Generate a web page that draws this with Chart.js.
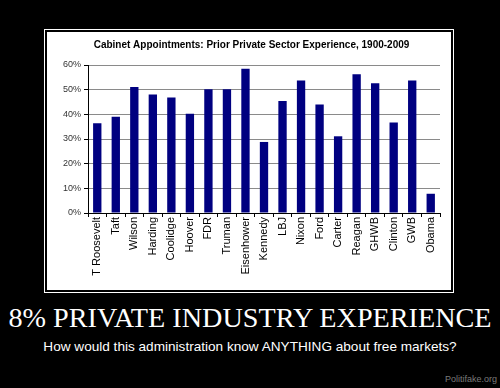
<!DOCTYPE html>
<html>
<head>
<meta charset="utf-8">
<title>8% Private Industry Experience</title>
<script src="https://cdn.jsdelivr.net/npm/chart.js@4"></script>
<style>
  html, body { margin: 0; padding: 0; }
  body { width: 500px; height: 388px; background: #000; position: relative; overflow: hidden; }
  .frame { position: absolute; left: 44px; top: 29px; width: 408px; height: 262px; border: 1px solid #fff; }
  .panel { position: absolute; left: 47px; top: 32px; width: 404px; height: 258px; background: #fff; }
  .headline { position: absolute; left: 0; width: 500px; top: 302px; text-align: center; color: #fff;
              font-family: "Liberation Serif", "Times New Roman", serif; font-size: 28.2px; line-height: 32px; white-space: nowrap; }
  .sub { position: absolute; left: 0; width: 500px; top: 339px; text-align: center; color: #fff;
         font-family: "Liberation Sans", Arial, sans-serif; font-size: 13.6px; line-height: 16px; white-space: nowrap; }
  .mark { position: absolute; right: 3px; top: 374px; color: #7a7a7a;
          font-family: "Liberation Sans", Arial, sans-serif; font-size: 9px; }
</style>
</head>
<body>
<div class="frame"></div>
<div class="panel"><canvas id="chart" width="404" height="258"></canvas></div>
<div class="headline">8% PRIVATE INDUSTRY EXPERIENCE</div>
<div class="sub">How would this administration know ANYTHING about free markets?</div>
<div class="mark">Politifake.org</div>

<script>
// --- Datos ---
const presidents = ['T Roosevelt', 'Taft', 'Wilson', 'Harding', 'Coolidge', 'Hoover', 'FDR', 'Truman',
  'Eisenhower', 'Kennedy', 'LBJ', 'Nixon', 'Ford', 'Carter', 'Reagan', 'GHWB', 'Clinton', 'GWB', 'Obama'];
const privateSectorPct = [36.4, 39.0, 51.1, 48.0, 46.8, 40.2, 50.2, 50.2,
  58.5, 28.8, 45.4, 53.7, 44.0, 31.1, 56.2, 52.6, 36.7, 53.7, 7.8];
const yTicks = [0, 10, 20, 30, 40, 50, 60];

const chartTitle = 'Cabinet Appointments: Prior Private Sector Experience, 1900-2009';

const sans = '"Liberation Sans", Arial, sans-serif';

new Chart(document.getElementById('chart'), {
  type: 'bar',
  data: {
    labels: presidents,
    datasets: [{
      data: privateSectorPct,
      backgroundColor: '#000080',
      borderWidth: 0,
      barPercentage: 0.45,
      categoryPercentage: 1
    }]
  },
  options: {
    responsive: false,
    animation: false,
    // padding izquierdo para centrar el título como en la imagen
    layout: { padding: { left: 16, right: 11, top: 0, bottom: 0 } },
    plugins: {
      legend: { display: false },
      tooltip: { enabled: false },
      title: {
        display: true,
        text: chartTitle,
        color: '#000',
        font: { family: sans, size: 10, weight: 'bold' },
        padding: { top: 7, bottom: 14 }
      }
    },
    scales: {
      x: {
        offset: true,
        grid: { display: true, drawOnChartArea: false, drawTicks: true, tickLength: 4, color: '#000', offset: true },
        border: { color: '#000', width: 1 },
        ticks: {
          color: '#000', font: { family: sans, size: 11 },
          minRotation: 90, maxRotation: 90, autoSkip: false, padding: 0
        },
        afterFit: (scale) => { scale.height = 77; }
      },
      y: {
        min: 0, max: 60,
        afterBuildTicks: (scale) => { scale.ticks = yTicks.map(v => ({ value: v })); },
        grid: { color: '#8a8a8a', tickColor: '#000', tickLength: 4, lineWidth: 1 },
        border: { color: '#000', width: 1 },
        ticks: {
          color: '#333', font: { family: sans, size: 9 }, padding: 3,
          callback: (v) => v + '%'
        },
        afterFit: (scale) => { scale.width = 25; }
      }
    }
  }
});
</script>
</body>
</html>
